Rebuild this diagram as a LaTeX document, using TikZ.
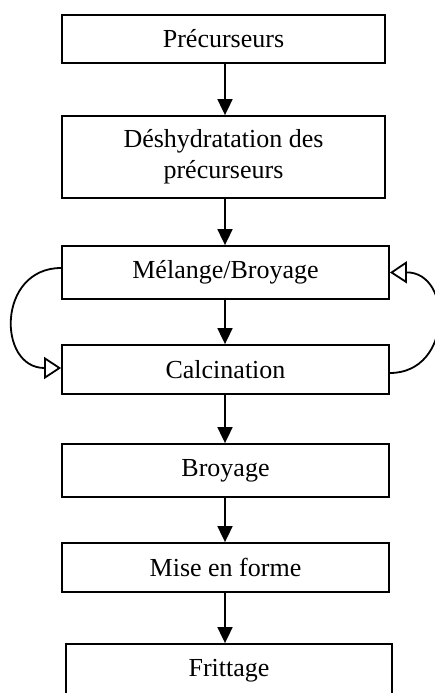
\documentclass[tikz,border=0pt]{standalone}
\usepackage{fontspec}
\setmainfont{Liberation Serif}
\usetikzlibrary{arrows.meta}
\begin{document}
\begin{tikzpicture}[x=1pt,y=-1pt,
  box/.style={draw,line width=1.8pt,inner sep=0pt,align=center,
    font=\fontsize{26}{31}\selectfont},
  flow/.style={line width=1.8pt,-{Triangle[length=16pt,width=15pt]}},
  loopback/.style={line width=1.8pt,-{Triangle[open,length=17pt,width=22pt,fill=white]}}]
\useasboundingbox (0,0) rectangle (435,693);
\clip (0,0) rectangle (435,693);
\node[box,minimum width=323pt,minimum height=48pt] (pre) at (223.5,39) {Précurseurs};
\node[box,minimum width=323pt,minimum height=82pt] (des) at (223.5,157) {Déshydratation des\\précurseurs};
\node[box,minimum width=327pt,minimum height=53pt] (mel) at (225.5,272.5) {Mélange/Broyage};
\node[box,minimum width=327pt,minimum height=49pt] (cal) at (225.5,369.5) {Calcination};
\node[box,minimum width=327pt,minimum height=53pt] (bro) at (225.5,470.5) {Broyage};
\node[box,minimum width=327pt,minimum height=49pt] (mef) at (225.5,567.5) {Mise en forme};
\node[box,minimum width=326pt,minimum height=53pt] (fri) at (229,670.5) {Frittage};
\coordinate (ax) at (225,0);
\draw[flow] (pre.south -| ax) -- (des.north -| ax);
\draw[flow] (des.south -| ax) -- (mel.north -| ax);
\draw[flow] (mel.south -| ax) -- (cal.north -| ax);
\draw[flow] (cal.south -| ax) -- (bro.north -| ax);
\draw[flow] (bro.south -| ax) -- (mef.north -| ax);
\draw[flow] (mef.south -| ax) -- (fri.north -| ax);
\draw[loopback] ([yshift=4.5pt]mel.west) .. controls (-3,268) and (-3,368) .. ([yshift=1.5pt]cal.west);
\draw[loopback] ([yshift=-3.5pt]cal.east) .. controls (453,373) and (453,272) .. (mel.east);
\end{tikzpicture}
\end{document}
